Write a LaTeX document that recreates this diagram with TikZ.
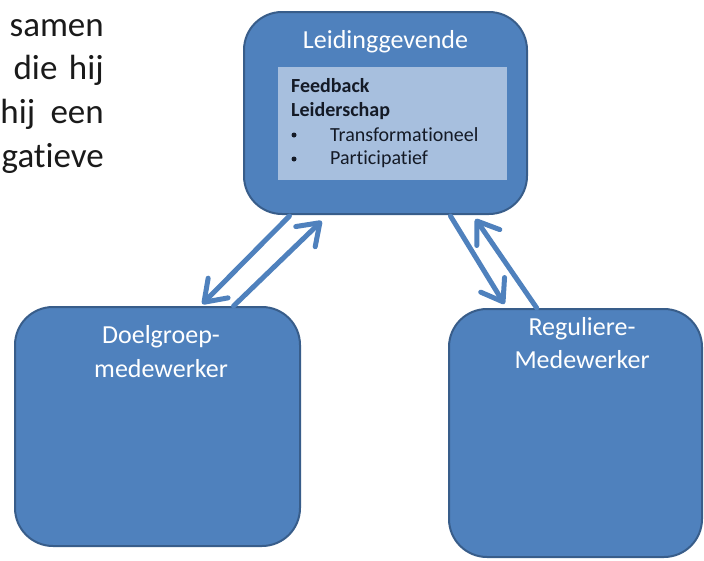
\documentclass[tikz,border=0pt]{standalone}
\usepackage{fontspec}
\setmainfont[Ligatures={NoCommon,NoRequired,NoContextual}]{Carlito}
\usetikzlibrary{arrows.meta,calc}
\definecolor{boxfill}{HTML}{4F81BD}
\definecolor{boxline}{HTML}{385D8A}
\definecolor{panelfill}{HTML}{A7BFDE}
\definecolor{bodytext}{HTML}{1A1A1A}
\definecolor{paneltext}{HTML}{141A26}
\begin{document}
\begin{tikzpicture}[x=1pt,y=-1pt,
  roleBox/.style={draw=boxline, line width=2pt, fill=boxfill, rounded corners=38pt, inner sep=0pt},
  roleLabel/.style={text=white, font=\fontsize{26}{31}\selectfont, inner sep=0pt, anchor=base},
  bodyLine/.style={text=bodytext, font=\fontsize{35}{43}\selectfont, inner sep=0pt, anchor=base east},
  panelLine/.style={text=paneltext, font=\fontsize{20}{24}\selectfont, inner sep=0pt, anchor=base west},
  panelBullet/.style={circle, fill=paneltext, inner sep=0pt, minimum size=5pt},
  link/.style={draw=boxfill, line width=5pt, line cap=round,
    -{Straight Barb[length=20pt,width=28pt,line width=5pt,round]}}
]
\path[use as bounding box] (0,0) rectangle (704,560);

% running text at the left margin (line ends of a justified paragraph)
\node[bodyLine] (l1) at (104,36) {samen};
\node[bodyLine] (l2) at (104,79) {die\hspace{0.33em}hij};
\node[bodyLine] (l3) at (104,123) {hij\hspace{0.44em}een};
\node[bodyLine] (l4) at (104,167) {gatieve};

% the three roles
\node[roleBox, minimum width=283pt, minimum height=202pt] (lead) at (385.5,113) {};
\node[roleBox, minimum width=285pt, minimum height=239pt] (target) at (157.5,426.5) {};
\node[roleBox, minimum width=253pt, minimum height=248pt] (regular) at (575.5,433) {};

\node[roleLabel, anchor=center] (leadT) at (385.5,42) {Leidinggevende};
\node[roleLabel] (targetT1) at (161,343) {Doelgroep-};
\node[roleLabel] (targetT2) at (161,377) {medewerker};
\node[roleLabel] (regularT1) at (582,335) {Reguliere-};
\node[roleLabel] (regularT2) at (582,368) {Medewerker};

% leadership panel
\node[fill=panelfill, minimum width=229pt, minimum height=113pt, inner sep=0pt] (panel) at (392.5,123.5) {};
\node[panelLine, font=\fontsize{20}{24}\selectfont\bfseries] (p1) at (291,92) {Feedback};
\node[panelLine, font=\fontsize{20}{24}\selectfont\bfseries] (p2) at (291,116) {Leiderschap};
\node[panelBullet] (b1) at (294,135) {};
\node[panelLine] (p3) at (330,141) {Transformationeel};
\node[panelBullet] (b2) at (294,159) {};
\node[panelLine] (p4) at (330,164) {Participatief};

% connection points on the box edges
\coordinate (a1s) at ($(lead.south west)!0.163!(lead.south east)+(0,1)$);
\coordinate (a1e) at ($(target.north west)!0.656!(target.north east)+(0,-2)$);
\coordinate (a2s) at ($(target.north west)!0.765!(target.north east)$);
\coordinate (a2e) at ($(lead.south west)!0.276!(lead.south east)+(0,6)$);
\coordinate (a3s) at ($(lead.south west)!0.728!(lead.south east)+(0,1)$);
\coordinate (a3e) at ($(regular.north west)!0.221!(regular.north east)+(0,-4)$);
\coordinate (a4s) at ($(regular.north west)!0.348!(regular.north east)$);
\coordinate (a4e) at ($(lead.south west)!0.816!(lead.south east)+(0,4)$);

\draw[link] (a1s) -- (a1e);
\draw[link] (a2s) -- (a2e);
\draw[link] (a3s) -- (a3e);
\draw[link] (a4s) -- (a4e);
\end{tikzpicture}
\end{document}
